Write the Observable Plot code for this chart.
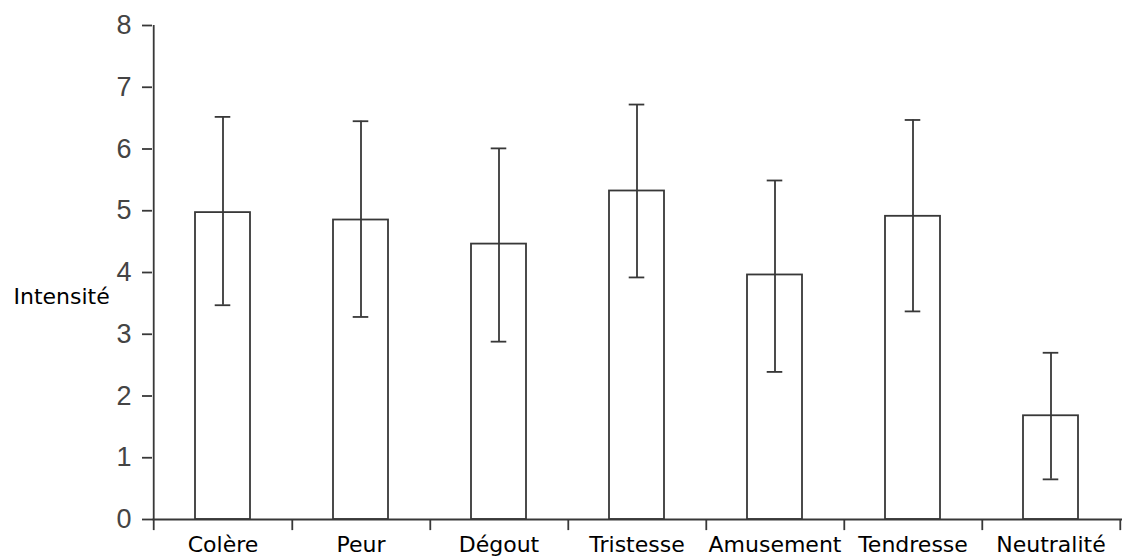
<!DOCTYPE html>
<html>
<head>
<meta charset="utf-8">
<script src="https://cdn.jsdelivr.net/npm/d3@7"></script>
<script src="https://cdn.jsdelivr.net/npm/@observablehq/plot@0.6"></script>
<style>
  html, body { margin: 0; padding: 0; background: #fff; }
  #chart { width: 1146px; height: 560px; overflow: hidden; }
</style>
</head>
<body>
<div id="chart"></div>
<script>
const categories = ["Colère", "Peur", "Dégout", "Tristesse", "Amusement", "Tendresse", "Neutralité"];
const means      = [4.97, 4.85, 4.46, 5.32, 3.96, 4.91, 1.68];
const errLow     = [3.47, 3.28, 2.88, 3.92, 2.39, 3.37, 0.65];
const errHigh    = [6.52, 6.45, 6.01, 6.72, 5.49, 6.47, 2.70];
const yTicks     = [0, 1, 2, 3, 4, 5, 6, 7, 8];
const yLabel     = "Intensité";

const data = categories.map((c, i) => ({cat: c, mean: means[i], lo: errLow[i], hi: errHigh[i]}));

const W = 1146, H = 560, mL = 152, mR = 24, mT = 25, mB = 41;
const step = (W - mL - mR) / categories.length;
const ink = "#383838";
const sw = 1.8;
const capInset = (step * 0.4 - 16) / 2;

const chart = Plot.plot({
  width: W,
  height: H,
  marginLeft: mL,
  marginRight: mR,
  marginTop: mT,
  marginBottom: mB,
  style: {background: "#fff"},
  x: {domain: categories, paddingInner: 0.6, paddingOuter: 0.3, label: null},
  y: {domain: [0, 8], label: null},
  marks: [
    // bars
    Plot.rectY(data, {x: "cat", y: "mean", fill: "#fff", stroke: ink, strokeWidth: sw}),
    // error bars
    Plot.ruleX(data, {x: "cat", y1: "lo", y2: "hi", stroke: ink, strokeWidth: sw}),
    Plot.tickY(data, {x: "cat", y: "lo", stroke: ink, strokeWidth: sw, insetLeft: capInset, insetRight: capInset}),
    Plot.tickY(data, {x: "cat", y: "hi", stroke: ink, strokeWidth: sw, insetLeft: capInset, insetRight: capInset}),
    // x axis line
    Plot.ruleY([0], {stroke: ink, strokeWidth: sw}),
    // y axis line
    Plot.ruleX([categories[0]], {y1: 0, y2: 8, dx: -step / 2, stroke: ink, strokeWidth: sw}),
    // x boundary ticks
    Plot.ruleX(categories, {y1: 0, y2: -0.18, dx: step / 2, stroke: ink, strokeWidth: sw}),
    Plot.ruleX([categories[0]], {y1: 0, y2: -0.18, dx: -step / 2, stroke: ink, strokeWidth: sw}),
    // y axis ticks and labels
    Plot.axisY({ticks: yTicks, tickSize: 10, tickPadding: 11, stroke: ink, strokeWidth: sw,
      fill: "#444", fontSize: 27, fontFamily: "Liberation Sans, Arial, sans-serif", label: null}),
    // x axis labels
    Plot.axisX({tickSize: 0, tickPadding: 17, fill: "#000", fontSize: 22,
      fontFamily: "DejaVu Sans, sans-serif", label: null}),
    // y label
    Plot.text([yLabel], {frameAnchor: "left", textAnchor: "start", dx: -139, dy: 24,
      fontSize: 22, fontFamily: "DejaVu Sans, sans-serif", fill: "#000"})
  ]
});

document.getElementById("chart").appendChild(chart);
</script>
</body>
</html>
